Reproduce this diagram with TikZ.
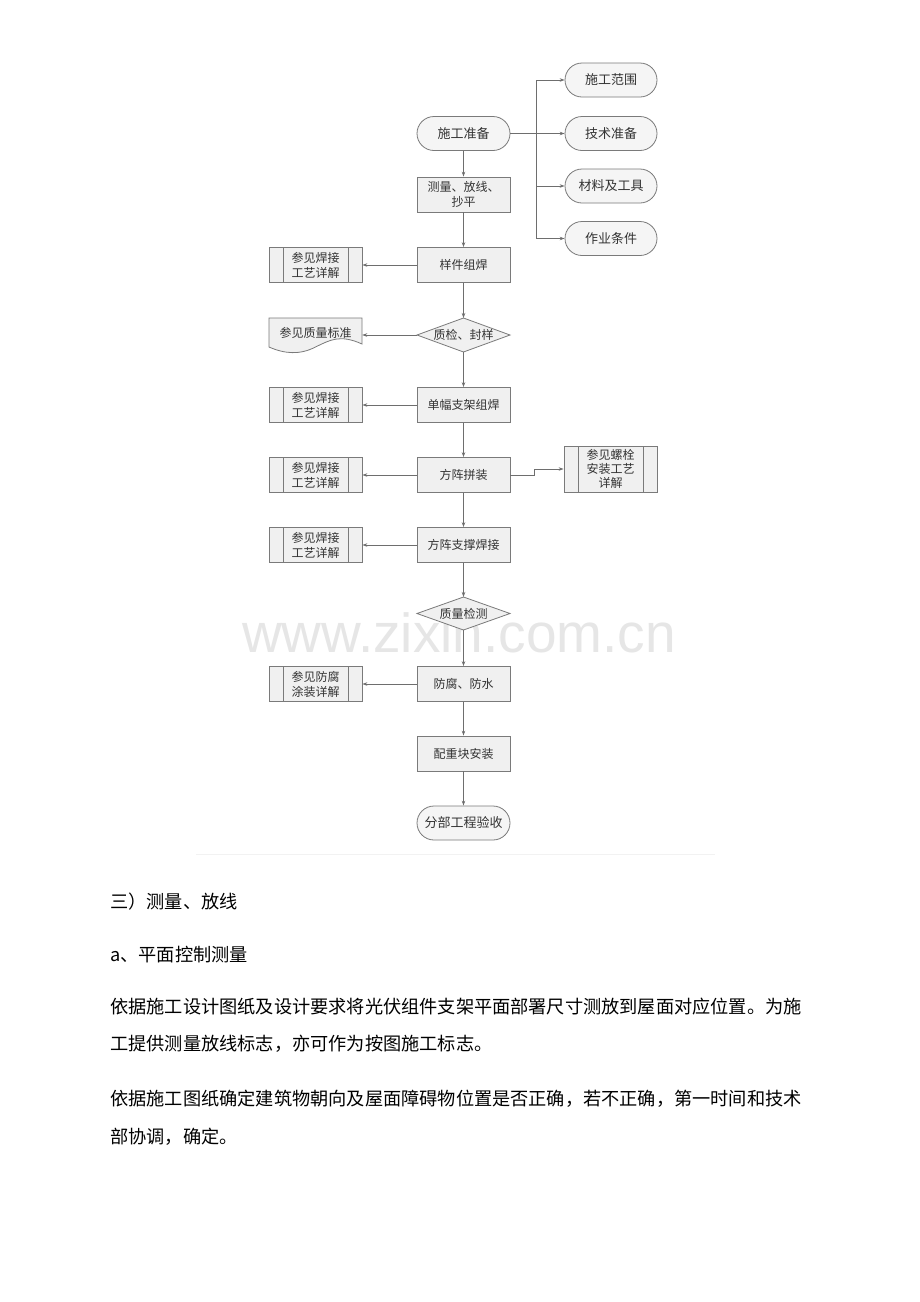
\documentclass[tikz,border=0pt]{standalone}
\usepackage{fontspec}
\setmainfont{Noto Sans CJK SC}
\newfontfamily\wm{Liberation Sans}
\usetikzlibrary{arrows.meta}
\definecolor{lc}{HTML}{6E6E6E}
\definecolor{bc}{HTML}{7A7A7A}
\definecolor{bf}{HTML}{F0F0F0}
\definecolor{sf}{HTML}{F5F5F5}
\definecolor{tc}{HTML}{333333}
\definecolor{wmc}{HTML}{E6E6E6}
\begin{document}
\begin{tikzpicture}[x=1pt,y=-1pt,
  line/.style={draw=lc, line width=0.7pt},
  arr/.style={line, -{Stealth[length=5pt,width=3.5pt]}},
  box/.style={draw=bc, fill=bf, line width=0.8pt, minimum width=93pt, minimum height=35pt,
    inner sep=1pt, align=center, text=tc, font=\fontsize{12}{15}\selectfont},
  stad/.style={box, rounded corners=17pt, fill=sf, minimum height=34pt, font=\fontsize{13}{15}\selectfont},
  plain/.style={minimum width=93pt, minimum height=34pt, inner sep=0pt, align=center, text=tc,
    font=\fontsize{12}{15}\selectfont},
  refbox/.style={box, path picture={
    \draw[bc, line width=0.8pt] ([xshift=14pt]path picture bounding box.north west) -- ([xshift=14pt]path picture bounding box.south west)
      ([xshift=-14pt]path picture bounding box.north east) -- ([xshift=-14pt]path picture bounding box.south east);}},
  dshape/.style={draw=bc, fill=bf, line width=0.8pt},
  para/.style={anchor=west, inner sep=0pt, text=black, font=\fontsize{18.2}{20}\selectfont}
]
\useasboundingbox (0,0) rectangle (920,1302);
\fill[white] (0,0) rectangle (920,1302);

% watermark
\node[text=wmc, font=\wm\fontsize{55}{60}\selectfont, inner sep=0pt] (wm) at (459,633) {www.zixin.com.cn};

% faint bottom rule of the figure
\draw[gray!10, line width=1pt] (196,854) -- (715,854);

% main column
\node[stad] (n1) at (463.5,133.5) {施工准备};
\node[box] (n2) at (463.5,194.5) {测量、放线、\\抄平};
\node[box] (n3) at (463.5,265) {样件组焊};
\path[dshape] (463.5,318) -- (510,335) -- (463.5,352) -- (417,335) -- cycle;
\node[plain] (n4) at (463.5,335) {质检、封样};
\node[box] (n5) at (463.5,405) {单幅支架组焊};
\node[box] (n6) at (463.5,475) {方阵拼装};
\node[box] (n7) at (463.5,545) {方阵支撑焊接};
\path[dshape] (463.5,597) -- (510,613.5) -- (463.5,630) -- (417,613.5) -- cycle;
\node[plain] (n8) at (463.5,613.5) {质量检测};
\node[box] (n9) at (463.5,684) {防腐、防水};
\node[box] (n10) at (463.5,753.5) {配重块安装};
\node[stad] (n11) at (463.5,823) {分部工程验收};

% right column
\node[stad, minimum width=92pt] (r1) at (611,80) {施工范围};
\node[stad, minimum width=92pt] (r2) at (611,133.5) {技术准备};
\node[stad, minimum width=92pt] (r3) at (611,186) {材料及工具};
\node[stad, minimum width=92pt] (r4) at (611,238.5) {作业条件};

% left column
\node[refbox] (L1) at (315.5,265) {参见焊接\\工艺详解};
\path[dshape] (269,318) -- (362,318) -- (362,344)
  .. controls (340,334) and (330,340) .. (315.5,347)
  .. controls (300,355) and (285,354) .. (269,347) -- cycle;
\node[plain] (L2) at (315.5,335) {};
\node[plain, text=tc] (L2t) at (315.5,333) {参见质量标准};
\node[refbox] (L3) at (315.5,405) {参见焊接\\工艺详解};
\node[refbox] (L4) at (315.5,475) {参见焊接\\工艺详解};
\node[refbox] (L5) at (315.5,545) {参见焊接\\工艺详解};
\node[refbox] (L6) at (315.5,684) {参见防腐\\涂装详解};

% bolt box
\node[refbox, minimum height=46pt, font=\fontsize{12}{14}\selectfont] (B) at (610.5,469) {参见螺栓\\安装工艺\\详解};

% main flow
\draw[arr] (n1.south) -- (n2.north);
\draw[arr] (n2.south) -- (n3.north);
\draw[arr] (n3.south) -- (463.5,318);
\draw[arr] (463.5,352) -- (n5.north);
\draw[arr] (n5.south) -- (n6.north);
\draw[arr] (n6.south) -- (n7.north);
\draw[arr] (n7.south) -- (463.5,597);
\draw[arr] (463.5,630) -- (n9.north);
\draw[arr] (n9.south) -- (n10.north);
\draw[arr] (n10.south) -- (n11.north);

% branch to right column
\coordinate (bus) at (536,133.5);
\draw[line] (n1.east) -- (bus);
\draw[line] (bus |- r1.west) -- (bus |- r4.west);
\draw[arr] (bus |- r1.west) -- (r1.west);
\draw[arr] (bus) -- (r2.west);
\draw[arr] (bus |- r3.west) -- (r3.west);
\draw[arr] (bus |- r4.west) -- (r4.west);

% left references
\draw[arr] (n3.west) -- (L1.east);
\draw[arr] (417,335) -- (L2.east);
\draw[arr] (n5.west) -- (L3.east);
\draw[arr] (n6.west) -- (L4.east);
\draw[arr] (n7.west) -- (L5.east);
\draw[arr] (n9.west) -- (L6.east);

% bolt reference
\coordinate (jog) at (534,475);
\draw[arr] (n6.east) -- (jog) |- (B.west);

% text below
\node[para] (t1) at (110,902) {三）测量、放线};
\node[para] (t2) at (110,955) {a、平面控制测量};
\node[para] (t3) at (110,1007) {依据施工设计图纸及设计要求将光伏组件支架平面部署尺寸测放到屋面对应位置。为施};
\node[para] (t4) at (110,1044) {工提供测量放线标志，亦可作为按图施工标志。};
\node[para] (t5) at (110,1099) {依据施工图纸确定建筑物朝向及屋面障碍物位置是否正确，若不正确，第一时间和技术};
\node[para] (t6) at (110,1137) {部协调，确定。};
\end{tikzpicture}
\end{document}
